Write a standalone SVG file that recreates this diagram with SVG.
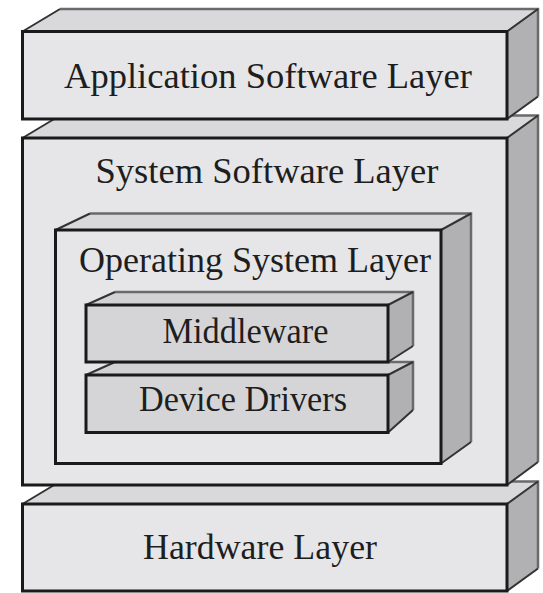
<svg xmlns="http://www.w3.org/2000/svg" width="543" height="593" viewBox="0 0 543 593">
  <style>
    .top { fill: #d9d9db; stroke: none; }
    .side { fill: #b1b1b3; stroke: none; }
    .front { fill: #e6e6e8; stroke: #1a1a1a; stroke-width: 3; }
    .ifront { fill: #d5d5d7; stroke: #1a1a1a; stroke-width: 3; }
    .itop { fill: #d2d2d4; stroke: none; }
    .back { fill: none; stroke: #6a6a6a; stroke-width: 2.5; stroke-linejoin: miter; }
    .diag { fill: none; stroke: #333333; stroke-width: 2; }
    .lbl { font-family: "Liberation Serif", "Times New Roman", serif; font-size: 35px; fill: #1e1e1e; text-anchor: middle; }
  </style>
  <rect x="0" y="0" width="543" height="593" fill="#ffffff"/>

  <g id="hardware-layer">
    <polygon class="top" points="22.5,504 60,481.5 538,481.5 507,504"/>
    <polygon class="side" points="507,504 538,481.5 538,568.5 507,591"/>
    <path class="back" d="M60,481.5 H538 V568.5"/>
    <path class="diag" d="M22.5,504 L60,481.5 M507,504 L538,481.5 M507,591 L538,568.5"/>
    <rect class="front" x="22.5" y="504" width="484.5" height="87"/>
    <text class="lbl" x="260" y="559" textLength="234" lengthAdjust="spacingAndGlyphs">Hardware Layer</text>
  </g>

  <g id="system-software-layer">
    <polygon class="top" points="22.5,138 60,115.5 538,115.5 507,138"/>
    <polygon class="side" points="507,138 538,115.5 538,462 507,485"/>
    <path class="back" d="M60,115.5 H538 V462"/>
    <path class="diag" d="M22.5,138 L60,115.5 M507,138 L538,115.5 M507,485 L538,462"/>
    <rect class="front" x="22.5" y="138" width="484.5" height="347"/>
    <text class="lbl" x="267" y="183" textLength="343" lengthAdjust="spacingAndGlyphs">System Software Layer</text>
  </g>

  <g id="operating-system-layer">
    <polygon class="top" points="55.5,230 90,213.5 471,213.5 441,230"/>
    <polygon class="side" points="441,230 471,213.5 471,442 441,463.5"/>
    <path class="back" d="M90,213.5 H471 V442"/>
    <path class="diag" d="M55.5,230 L90,213.5 M441,230 L471,213.5 M441,463.5 L471,442"/>
    <rect class="front" x="55.5" y="230" width="385.5" height="233.5"/>
    <text class="lbl" x="255" y="272" textLength="352" lengthAdjust="spacingAndGlyphs">Operating System Layer</text>
  </g>

  <g id="device-drivers">
    <polygon class="itop" points="86,375 115,362 413,362 388,375"/>
    <polygon class="side" points="388,375 413,362 413,410 388,432.5"/>
    <path class="back" d="M115,362 H413 V410"/>
    <path class="diag" d="M86,375 L115,362 M388,375 L413,362 M388,432.5 L413,410"/>
    <rect class="ifront" x="86" y="375" width="302" height="57.5"/>
    <text class="lbl" x="243" y="411" textLength="208" lengthAdjust="spacingAndGlyphs">Device Drivers</text>
  </g>

  <g id="middleware">
    <polygon class="itop" points="86,305 115,292 413,292 388,305"/>
    <polygon class="side" points="388,305 413,292 413,346 388,362"/>
    <path class="back" d="M115,292 H413 V346"/>
    <path class="diag" d="M86,305 L115,292 M388,305 L413,292 M388,362 L413,346"/>
    <rect class="ifront" x="86" y="305" width="302" height="57"/>
    <text class="lbl" x="245.5" y="343" textLength="166" lengthAdjust="spacingAndGlyphs">Middleware</text>
  </g>

  <g id="application-software-layer">
    <polygon class="top" points="22.5,31.5 60,9 538,9 507,31.5"/>
    <polygon class="side" points="507,31.5 538,9 538,96.5 507,119"/>
    <path class="back" d="M60,9 H538 V96.5"/>
    <path class="diag" d="M22.5,31.5 L60,9 M507,31.5 L538,9 M507,119 L538,96.5"/>
    <rect class="front" x="22.5" y="31.5" width="484.5" height="87.5"/>
    <text class="lbl" x="268" y="88" textLength="408" lengthAdjust="spacingAndGlyphs">Application Software Layer</text>
  </g>

  <g id="connectors"/>
</svg>
